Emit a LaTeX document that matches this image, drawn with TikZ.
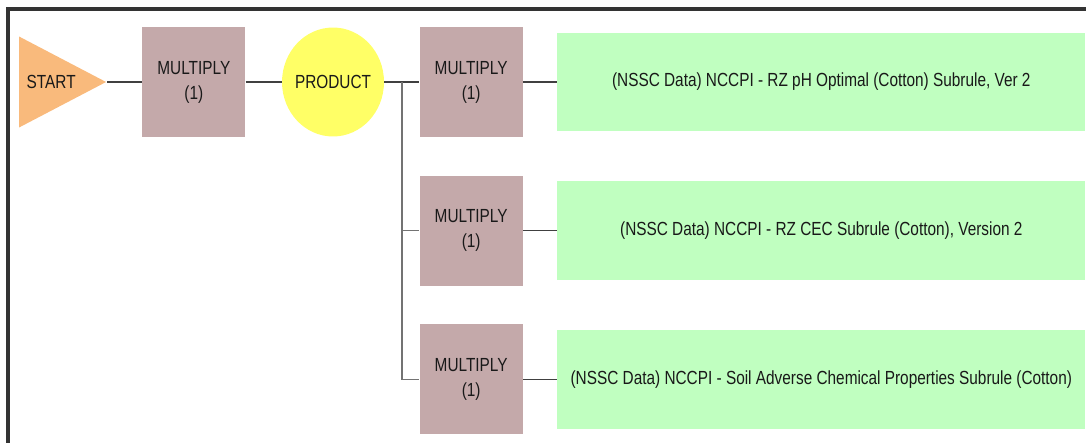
\documentclass[tikz,border=0pt]{standalone}
\usepackage{fontspec}
\setmainfont[FakeStretch=0.81]{Liberation Sans}
\usetikzlibrary{positioning}
\usetikzlibrary{calc}
\usetikzlibrary{shapes.geometric}

\definecolor{startfill}{HTML}{F9BA7C}
\definecolor{opfill}{HTML}{C4A9AA}
\definecolor{prodfill}{HTML}{FFFF66}
\definecolor{rulefill}{HTML}{C0FFC0}

\begin{document}
\begin{tikzpicture}[x=0.02cm, y=-0.02cm, font=\fontsize{10.8}{14.2}\selectfont, text=black!90,
                    startnode/.style={isosceles triangle, isosceles triangle stretches, fill=startfill,
                                      minimum width=1.82cm, minimum height=1.74cm, inner sep=0pt},
                    op/.style={rectangle, fill=opfill, minimum width=2.06cm, minimum height=2.2cm, align=center},
                    prod/.style={ellipse, fill=prodfill, minimum width=2.04cm, minimum height=2.18cm, inner sep=-2pt},
                    rule/.style={rectangle, fill=rulefill, minimum width=10.56cm, minimum height=1.98cm},
                    wire/.style={draw=black!75, line width=0.6pt}]
    \useasboundingbox (0,0) rectangle (1086,443);
    \draw[line width=1.8pt, black!80] (8,443) -- (8,9) -- (1086,9);

    \node[startnode, anchor=apex] (start) at (107,82) {};
    \node[right=0pt of start.west, xshift=1pt] {START};
    \path
        node[op, right=0.7cm of start.apex] (mult1) {MULTIPLY\\(1)}
        node[prod, right=0.72cm of mult1] (prod) {PRODUCT}
        node[op, right=0.7cm of prod] (mult2) {MULTIPLY\\(1)}
        node[op, below=0.76cm of mult2] (mult3) {MULTIPLY\\(1)}
        node[op, below=0.76cm of mult3] (mult4) {MULTIPLY\\(1)}
        node[rule, right=0.68cm of mult2] (ph) {(NSSC Data) NCCPI - RZ pH Optimal (Cotton) Subrule, Ver 2}
        node[rule, right=0.68cm of mult3] (cec) {(NSSC Data) NCCPI - RZ CEC Subrule (Cotton), Version 2}
        node[rule, right=0.68cm of mult4] (soil) {(NSSC Data) NCCPI - Soil Adverse Chemical Properties Subrule (Cotton)};

    \draw[wire] (start.apex) -- (mult1);
    \draw[wire] (mult1) -- (prod);
    \draw[wire] (prod) -- (mult2);
    \coordinate (split) at ($(prod.east)!0.5!(mult2.west)$);
    \draw[draw=black!55, line width=0.8pt] (split) |- (mult3.west);
    \draw[draw=black!55, line width=0.8pt] (split) |- (mult4.west);
    \draw[wire] (mult2) -- (ph);
    \draw[wire] (mult3) -- (cec);
    \draw[wire] (mult4) -- (soil);
\end{tikzpicture}
\end{document}
